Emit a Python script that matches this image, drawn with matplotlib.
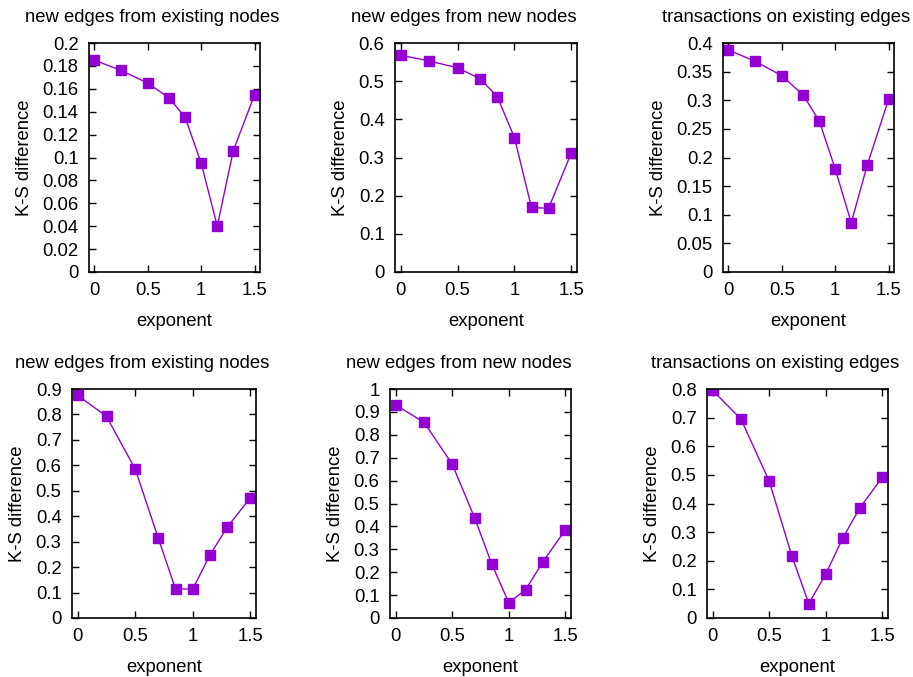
import matplotlib
matplotlib.use("Agg")
import matplotlib.pyplot as plt

plt.rcParams['font.family'] = ['Liberation Sans', 'DejaVu Sans']

exponent = [0, 0.25, 0.5, 0.7, 0.85, 1.0, 1.15, 1.3, 1.5]

titles = ["new edges from existing nodes", "new edges from new nodes",
          "transactions on existing edges"] * 2

ks_top_existing_nodes = [0.185, 0.176, 0.165, 0.152, 0.135, 0.095, 0.040, 0.106, 0.155]
ks_top_new_nodes = [0.568, 0.553, 0.535, 0.506, 0.459, 0.352, 0.169, 0.167, 0.312]
ks_top_existing_edges = [0.388, 0.368, 0.343, 0.309, 0.264, 0.180, 0.086, 0.187, 0.302]
ks_bot_existing_nodes = [0.875, 0.792, 0.585, 0.314, 0.114, 0.114, 0.248, 0.357, 0.472]
ks_bot_new_nodes = [0.930, 0.855, 0.672, 0.435, 0.235, 0.067, 0.124, 0.244, 0.385]
ks_bot_existing_edges = [0.795, 0.695, 0.478, 0.217, 0.050, 0.154, 0.279, 0.384, 0.492]

series = [ks_top_existing_nodes, ks_top_new_nodes, ks_top_existing_edges,
          ks_bot_existing_nodes, ks_bot_new_nodes, ks_bot_existing_edges]

yticks = [
    ([i * 0.02 for i in range(11)], ["0", "0.02", "0.04", "0.06", "0.08", "0.1", "0.12", "0.14", "0.16", "0.18", "0.2"]),
    ([i * 0.1 for i in range(7)], ["0", "0.1", "0.2", "0.3", "0.4", "0.5", "0.6"]),
    ([i * 0.05 for i in range(9)], ["0", "0.05", "0.1", "0.15", "0.2", "0.25", "0.3", "0.35", "0.4"]),
    ([i * 0.1 for i in range(10)], ["0", "0.1", "0.2", "0.3", "0.4", "0.5", "0.6", "0.7", "0.8", "0.9"]),
    ([i * 0.1 for i in range(11)], ["0", "0.1", "0.2", "0.3", "0.4", "0.5", "0.6", "0.7", "0.8", "0.9", "1"]),
    ([i * 0.1 for i in range(9)], ["0", "0.1", "0.2", "0.3", "0.4", "0.5", "0.6", "0.7", "0.8"]),
]

# axes boxes in pixels: left, right, top, bottom
boxes = [(89, 260, 43, 272), (395, 577, 43, 272), (723, 894, 43, 272),
         (72, 256, 389, 618), (390, 571, 389, 618), (707, 888, 389, 618)]

W, H = 913, 677
fig = plt.figure(figsize=(W / 100, H / 100), dpi=100)
color = '#9400d3'
fs = 13.3

for i in range(6):
    l, r, t, b = boxes[i]
    ax = fig.add_axes([l / W, 1 - b / H, (r - l) / W, (b - t) / H])
    ax.plot(exponent, series[i], color=color, lw=1, marker='s', ms=6.5,
            markeredgecolor=color, markerfacecolor=color)
    ax.set_xlim(-0.05, 1.55)
    ticks, labels = yticks[i]
    ax.set_ylim(0, ticks[-1])
    ax.set_yticks(ticks)
    ax.set_yticklabels(labels)
    ax.set_xticks([0, 0.5, 1, 1.5])
    ax.set_xticklabels(["0", "0.5", "1", "1.5"])
    ax.tick_params(direction='in', top=True, right=True, length=5, width=1,
                   labelsize=fs, pad=7.5)
    for s in ax.spines.values():
        s.set_linewidth(1.2)
    # gnuplot centres the title a bit left of the plot box
    ax.set_title(titles[i], fontsize=fs, pad=15, x=0.5 - 22 / (r - l))
    ax.set_xlabel("exponent", fontsize=fs, labelpad=9.5)
    ax.set_ylabel("K-S difference", fontsize=fs, labelpad=7)

fig.savefig("out.png", dpi=100)
